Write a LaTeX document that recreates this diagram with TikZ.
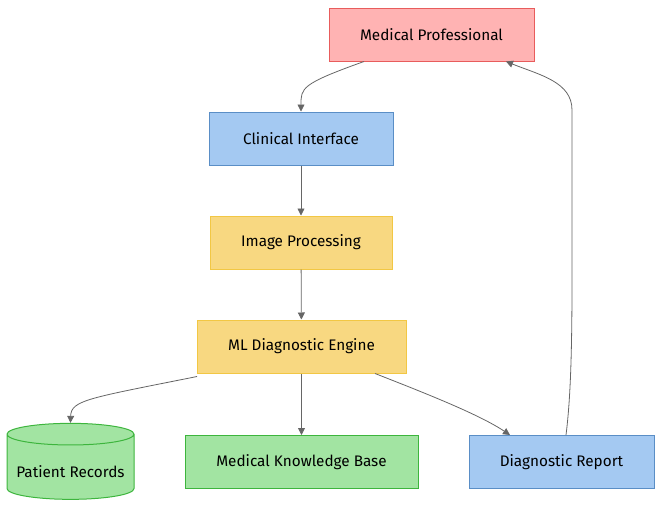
\documentclass[tikz,border=0pt]{standalone}
\usepackage{fontspec}
\setmainfont{Fira Sans}
\usetikzlibrary{arrows.meta,shapes.geometric,positioning}

\definecolor{redfill}{HTML}{FFB3B3}
\definecolor{redline}{HTML}{E85C5C}
\definecolor{bluefill}{HTML}{A4C9F2}
\definecolor{blueline}{HTML}{5A8EC6}
\definecolor{yelfill}{HTML}{F8D881}
\definecolor{yelline}{HTML}{F2C744}
\definecolor{grnfill}{HTML}{A2E4A2}
\definecolor{grnline}{HTML}{3DB53D}
\definecolor{edgegray}{HTML}{666666}

\tikzset{
  box/.style={draw, line width=1pt, minimum height=53pt, inner sep=0pt, font=\fontsize{15.3}{17}\selectfont},
  redbox/.style={box, fill=redfill, draw=redline},
  bluebox/.style={box, fill=bluefill, draw=blueline},
  yelbox/.style={box, fill=yelfill, draw=yelline},
  grnbox/.style={box, fill=grnfill, draw=grnline},
  edge/.style={draw=edgegray, line width=0.8pt, -{Triangle[length=7pt,width=7pt]}}
}

\begin{document}
\begin{tikzpicture}[x=1pt, y=-1pt]
  \useasboundingbox (0,0) rectangle (662,509);

  \node[redbox, minimum width=205pt] (prof) at (431.5,34.5) {Medical Professional};
  \node[bluebox, minimum width=184pt] (iface) at (301,138.5) {Clinical Interface};
  \node[yelbox, minimum width=182pt] (imgproc) at (301,242.5) {Image Processing};
  \node[yelbox, minimum width=209pt] (engine) at (301.5,346.5) {ML Diagnostic Engine};
  \node[grnbox, cylinder, shape border rotate=90, aspect=0.2,
        minimum width=127pt, minimum height=76pt] (records) at (70.5,467) {\raisebox{-10pt}[0pt][0pt]{Patient Records}};
  \node[grnbox, minimum width=233pt] (kbase) at (301.5,462) {Medical Knowledge Base};
  \node[bluebox, minimum width=185pt] (report) at (561.5,462) {Diagnostic Report};

  \draw[edge] ([xshift=-67.5pt]prof.south) .. controls (301,84) and (301,88) .. (iface.north);
  \draw[edge] (iface) -- (imgproc);
  \draw[edge] (imgproc) -- (engine);
  \draw[edge] ([xshift=-104.5pt,yshift=-3pt]engine.south) .. controls (90,398) and (71,400) .. (records.north); % to records
  \draw[edge] (engine) -- (kbase);
  \draw[edge] ([xshift=73.5pt]engine.south) .. controls (430,395) and (480,415) .. ([xshift=-51.5pt]report.north);
  \draw[edge] ([xshift=4.5pt]report.north) .. controls (573,380) and (572,300) .. (572,200)
    -- (572,110) .. controls (572,82) and (540,75) .. ([xshift=74.5pt]prof.south); % back up
\end{tikzpicture}
\end{document}
